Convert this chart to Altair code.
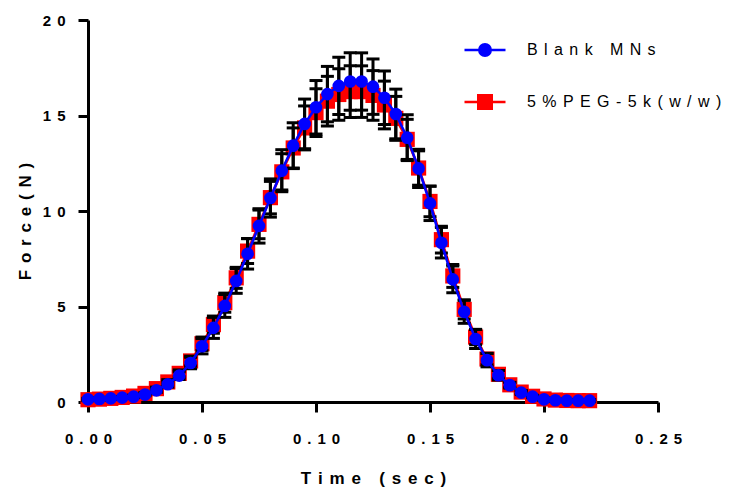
import json
import altair as alt
import pandas as pd

# ---------------- data ----------------
time_s = [0.000, 0.005, 0.010, 0.015, 0.020, 0.025, 0.030, 0.035, 0.040, 0.045,
          0.050, 0.055, 0.060, 0.065, 0.070, 0.075, 0.080, 0.085, 0.090, 0.095,
          0.100, 0.105, 0.110, 0.115, 0.120, 0.125, 0.130, 0.135, 0.140, 0.145,
          0.150, 0.155, 0.160, 0.165, 0.170, 0.175, 0.180, 0.185, 0.190, 0.195,
          0.200, 0.205, 0.210, 0.215, 0.220]

blank_mns = [0.14, 0.16, 0.19, 0.23, 0.28, 0.39, 0.61, 0.93, 1.38, 2.04,
             2.92, 3.88, 5.03, 6.34, 7.76, 9.22, 10.68, 12.11, 13.42, 14.56,
             15.43, 16.12, 16.55, 16.78, 16.78, 16.51, 15.93, 15.08, 13.84, 12.23,
             10.40, 8.34, 6.42, 4.72, 3.30, 2.19, 1.40, 0.88, 0.49, 0.28,
             0.14, 0.09, 0.07, 0.07, 0.07]

peg_5k = [0.12, 0.15, 0.19, 0.24, 0.31, 0.45, 0.70, 1.05, 1.50, 2.15,
          3.05, 4.05, 5.20, 6.50, 7.90, 9.30, 10.70, 12.05, 13.30, 14.35,
          15.15, 15.75, 16.10, 16.25, 16.25, 16.05, 15.55, 14.85, 13.75, 12.25,
          10.50, 8.50, 6.60, 4.85, 3.40, 2.25, 1.45, 0.90, 0.52, 0.30,
          0.16, 0.10, 0.08, 0.07, 0.07]

blank_sd = [0.05, 0.05, 0.05, 0.05, 0.05, 0.06, 0.10, 0.15, 0.20, 0.30,
            0.40, 0.55, 0.60, 0.65, 0.80, 0.90, 1.00, 1.10, 1.20, 1.30,
            1.40, 1.45, 1.50, 1.50, 1.50, 1.45, 1.40, 1.30, 1.20, 1.00,
            0.90, 0.80, 0.70, 0.60, 0.50, 0.35, 0.25, 0.15, 0.10, 0.05,
            0.05, 0.05, 0.05, 0.05, 0.05]

peg_sd = [0.05, 0.05, 0.05, 0.05, 0.05, 0.05, 0.08, 0.12, 0.18, 0.25,
          0.35, 0.45, 0.50, 0.55, 0.65, 0.75, 0.85, 0.95, 1.05, 1.15,
          1.25, 1.30, 1.35, 1.35, 1.35, 1.30, 1.25, 1.15, 1.05, 0.90,
          0.80, 0.70, 0.60, 0.50, 0.40, 0.30, 0.20, 0.12, 0.08, 0.05,
          0.05, 0.05, 0.05, 0.05, 0.05]

series_names = ["Blank MNs", "5%PEG-5k(w/w)"]
series_colors = ["#0000ff", "#ff0000"]

x_ticks = [0.0, 0.05, 0.10, 0.15, 0.20, 0.25]
x_tick_labels = ["0.00", "0.05", "0.10", "0.15", "0.20", "0.25"]
y_ticks = [0, 5, 10, 15, 20]
y_tick_labels = ["0", "5", "10", "15", "20"]
x_title = "Time (sec)"
y_title = "Force(N)"

# ---------------- helpers ----------------
GAP = "\u2009\u2009"


def spaced(s):
    return GAP.join(s)


rows = []
for name, vals, sds in [(series_names[0], blank_mns, blank_sd),
                        (series_names[1], peg_5k, peg_sd)]:
    for t, v, e in zip(time_s, vals, sds):
        rows.append({"series": name, "t": t, "force": v, "lo": v - e, "hi": v + e})
df = pd.DataFrame(rows)

FONT = "Liberation Sans"

x_label_expr = json.dumps([spaced(s) for s in x_tick_labels], ensure_ascii=False) + "[round(datum.value*20)]"
y_label_expr = json.dumps([spaced(s) for s in y_tick_labels], ensure_ascii=False) + "[round(datum.value/5)]"

x_axis = alt.Axis(values=x_ticks, labelExpr=x_label_expr, labelFlush=False,
                  labelPadding=19, titleX=285, titleY=81, titleBaseline="alphabetic")
y_axis = alt.Axis(values=y_ticks, labelExpr=y_label_expr, labelFlush=False,
                  labelPadding=13, titleX=-58, titleY=201, titleBaseline="alphabetic")

X = alt.X("t:Q", scale=alt.Scale(domain=[0, 0.25], nice=False, zero=False),
          axis=x_axis, title=spaced(x_title))


def Y(field):
    return alt.Y(field, scale=alt.Scale(domain=[0, 20], nice=False),
                 axis=y_axis, title=spaced(y_title))


base = alt.Chart(df)
blue = alt.datum.series == series_names[0]
red = alt.datum.series == series_names[1]

red_line = base.transform_filter(red).mark_line(color=series_colors[1], strokeWidth=2.6).encode(x=X, y=Y("force:Q"))
red_pts = base.transform_filter(red).mark_point(shape="square", filled=True, size=230, opacity=1,
                                                 color=series_colors[1], strokeWidth=0).encode(x=X, y=Y("force:Q"))

err_rule = base.mark_rule(color="black", strokeWidth=3).encode(x=X, y=Y("lo:Q"), y2="hi:Q")
err_caps = base.transform_fold(["lo", "hi"], as_=["end", "val"]).mark_tick(
    orient="horizontal", color="black", size=13, thickness=3, opacity=1).encode(x=X, y=Y("val:Q"))

blue_line = base.transform_filter(blue).mark_line(color=series_colors[0], strokeWidth=2.6).encode(x=X, y=Y("force:Q"))
blue_pts = base.transform_filter(blue).mark_point(shape="circle", filled=True, size=160, opacity=1,
                                                   color=series_colors[0], strokeWidth=0).encode(x=X, y=Y("force:Q"))

# legend symbols: line + filled marker drawn with strokes (unit = sqrt(size)/2 = 4px)
def circle_ring(r):
    return f"M{r},0A{r},{r} 0 1,1 {-r},0A{r},{r} 0 1,1 {r},0Z"


def square_ring(h):
    return f"M{-h},{-h}L{h},{-h}L{h},{h}L{-h},{h}Z"


LINE = "M-5.125,0L5.125,0"
circle_path = " ".join([LINE] + [circle_ring(r) for r in (1.425, 1.05, 0.675, 0.3)])
square_path = " ".join([LINE] + [square_ring(h) for h in (1.675, 1.25, 0.825, 0.4)])

legend_labels = json.dumps({n: spaced(n) for n in series_names}, ensure_ascii=False)
leg = alt.Legend(title=None, orient="none", legendX=389, legendY=22, padding=0,
                 labelExpr=legend_labels + "[datum.label]", labelFont=FONT, labelFontSize=16,
                 labelFontWeight="normal", labelColor="black", labelOffset=34,
                 rowPadding=29, symbolSize=64, symbolStrokeWidth=2.6, labelLimit=400)

legend_layer = base.transform_filter("false").mark_point(filled=False, size=64, strokeWidth=2.6, opacity=1).encode(
    x=X, y=Y("force:Q"),
    color=alt.Color("series:N", scale=alt.Scale(domain=series_names, range=series_colors), legend=leg),
    shape=alt.Shape("series:N", scale=alt.Scale(domain=series_names, range=[circle_path, square_path]), legend=leg),
)

chart = alt.layer(red_line, red_pts, err_rule, err_caps, blue_line, blue_pts, legend_layer).properties(
    width=570, height=382,
    autosize=alt.AutoSizeParams(type="none"),
    padding={"left": 80, "top": 12, "right": 65, "bottom": 85},
).configure_view(stroke=None).configure_axis(
    grid=False, domainColor="black", domainWidth=3, tickColor="black", tickWidth=3, tickSize=10,
    labelFont=FONT, labelFontSize=15, labelFontWeight="bold", labelColor="black",
    titleFont=FONT, titleFontSize=17, titleFontWeight="bold", titleColor="black",
)

chart.save("out.html", embed_options={"renderer": "svg", "actions": False})
